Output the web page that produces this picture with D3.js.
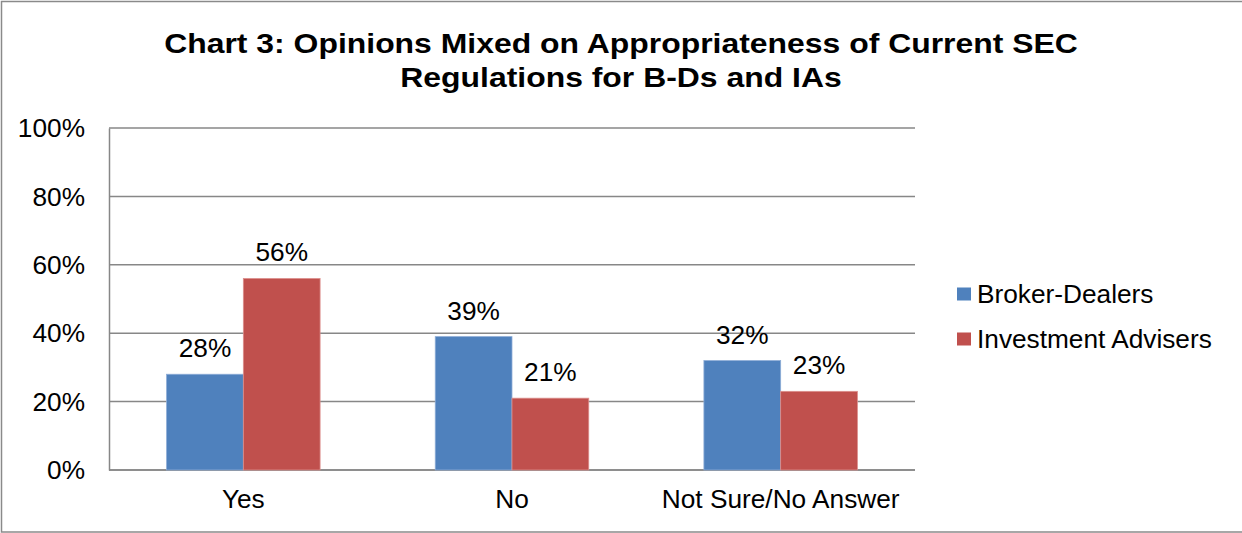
<!DOCTYPE html>
<html>
<head>
<meta charset="utf-8">
<script src="https://cdn.jsdelivr.net/npm/d3@7"></script>
<style>
  html, body { margin: 0; padding: 0; background: #fff; }
  svg { display: block; font-family: "Liberation Sans", Arial, sans-serif; }
</style>
</head>
<body>
<svg id="chart" width="1242" height="533"></svg>
<script>
// Survey responses by group
const categories = ["Yes", "No", "Not Sure/No Answer"];
const seriesNames = ["Broker-Dealers", "Investment Advisers"];
const brokerDealers = [0.28, 0.39, 0.32];
const investmentAdvisers = [0.56, 0.21, 0.23];
const yTicks = [0, 0.2, 0.4, 0.6, 0.8, 1.0];
const titleLines = [
  "Chart 3: Opinions Mixed on Appropriateness of Current SEC",
  "Regulations for B-Ds and IAs"
];

const colors = ["#4F81BD", "#C0504D"];
const edgeColors = ["#8EADD6", "#DC8F8D"];
const series = [brokerDealers, investmentAdvisers];

const W = 1242, H = 533;
const plot = { left: 109, right: 915, top: 128, bottom: 470 };
const sx = 1.05; // slight horizontal widening of glyphs
const fs = 25;

const svg = d3.select("#chart");

// outer frame
svg.append("rect")
  .attr("x", 1.5).attr("y", 1.5)
  .attr("width", W + 10).attr("height", H - 2.5)
  .attr("fill", "#fff")
  .attr("stroke", "#8a8a8a").attr("stroke-width", 1.5);

function txt(g, x, y, s, size, anchor, weight, scaleX) {
  return g.append("text")
    .attr("transform", `translate(${x},${y}) scale(${scaleX || sx},1)`)
    .attr("text-anchor", anchor || "start")
    .attr("font-size", size)
    .attr("font-weight", weight || "normal")
    .attr("fill", "#000")
    .text(s);
}

// title
titleLines.forEach((t, i) => txt(svg, W / 2, 53 + i * 34, t, 28.5, "middle", "bold", 1.12));

const x = d3.scaleBand().domain(categories).range([plot.left, plot.right]).paddingInner(0).paddingOuter(0);
const xs = d3.scaleBand().domain(seriesNames).range([0, x.bandwidth()]).paddingInner(0).paddingOuter(0.75);
const y = d3.scaleLinear().domain([0, 1]).range([plot.bottom, plot.top]);

// gridlines
svg.append("g").selectAll("line").data(yTicks).join("line")
  .attr("x1", plot.left).attr("x2", plot.right)
  .attr("y1", d => y(d)).attr("y2", d => y(d))
  .attr("stroke", "#878787").attr("stroke-width", 1.5);

// y axis
const yAxis = svg.append("g")
  .attr("transform", `translate(${plot.left},0)`)
  .call(d3.axisLeft(y).tickValues(yTicks).tickSize(0).tickPadding(24).tickFormat(d3.format(".0%")));
yAxis.select(".domain").attr("stroke", "#878787").attr("stroke-width", 1.5);
yAxis.selectAll("text")
  .attr("font-size", fs).attr("fill", "#000").attr("dy", "0.35em")
  .attr("font-family", "Liberation Sans, Arial, sans-serif")
  .attr("transform", function () {
    const tx = +d3.select(this).attr("x");
    d3.select(this).attr("x", 0);
    return `translate(${tx},0) scale(${sx},1)`;
  });

// x axis
const xAxis = svg.append("g")
  .attr("transform", `translate(0,${plot.bottom})`)
  .call(d3.axisBottom(x).tickSize(0).tickPadding(0));
xAxis.select(".domain").remove();
xAxis.selectAll("text").remove();
xAxis.selectAll(".tick").each(function (d) {
  d3.select(this).append("text")
    .attr("transform", `translate(0,37.5) scale(${sx},1)`)
    .attr("text-anchor", "middle")
    .attr("font-size", fs)
    .attr("fill", "#000")
    .attr("font-family", "Liberation Sans, Arial, sans-serif")
    .text(d);
});
svg.append("line")
  .attr("x1", plot.left).attr("x2", plot.right)
  .attr("y1", plot.bottom).attr("y2", plot.bottom)
  .attr("stroke", "#878787").attr("stroke-width", 1.5);

// bars and value labels
const groups = svg.append("g").selectAll("g").data(categories).join("g")
  .attr("transform", d => `translate(${x(d)},0)`);

seriesNames.forEach((name, si) => {
  groups.append("rect")
    .attr("x", xs(name))
    .attr("y", (d, i) => y(series[si][i]))
    .attr("width", xs.bandwidth())
    .attr("height", (d, i) => y(0) - y(series[si][i]))
    .attr("fill", colors[si])
    .attr("stroke", edgeColors[si]).attr("stroke-width", 0.8);
  groups.each(function (d, i) {
    txt(d3.select(this), xs(name) + xs.bandwidth() / 2, y(series[si][i]) - 17,
      d3.format(".0%")(series[si][i]), fs, "middle");
  });
});

// legend
const legend = svg.append("g");
seriesNames.forEach((name, i) => {
  const ly = 294 + i * 45;
  legend.append("rect")
    .attr("x", 957).attr("y", ly - 6.5)
    .attr("width", 14).attr("height", 13)
    .attr("fill", colors[i]);
  txt(legend, 977, ly + 8.5, name, fs, "start");
});
</script>
</body>
</html>
